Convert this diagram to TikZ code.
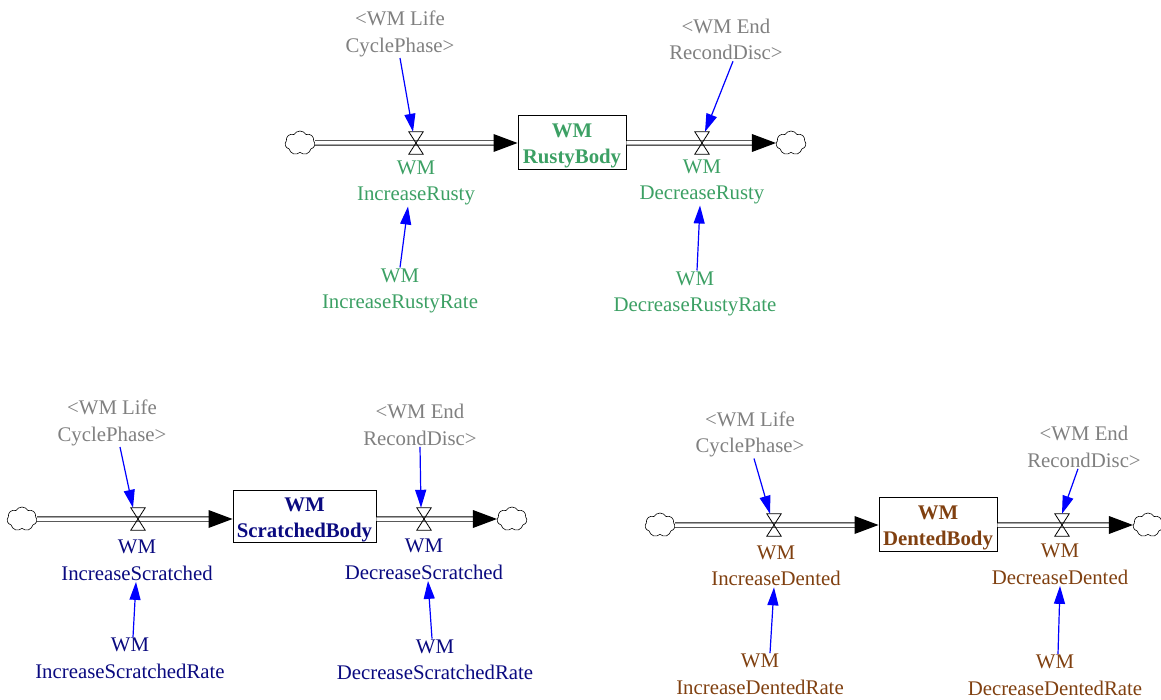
\documentclass[tikz,border=0pt]{standalone}
\usepackage{fontspec}
\setmainfont{Liberation Serif}
\usetikzlibrary{arrows.meta,shapes.symbols}
\definecolor{rgreen}{RGB}{60,160,100}
\definecolor{snavy}{RGB}{10,10,128}
\definecolor{dbrown}{RGB}{128,64,16}
\definecolor{shgray}{RGB}{128,128,128}
\begin{document}
\begin{tikzpicture}[x=1pt,y=-1pt,
 lbl/.style={align=center, inner sep=1pt, font=\fontsize{20.8}{26.5}\selectfont},
 shadow/.style={lbl, text=shgray},
 stock/.style={draw, line width=0.9pt, align=center, inner sep=0pt, font=\bfseries\fontsize{20.8}{26.5}\selectfont},
 cloudnode/.style={cloud, draw, cloud puffs=7, cloud puff arc=120, minimum width=30pt, minimum height=24pt, inner sep=0pt, line width=0.6pt},
 valve/.style={inner sep=0pt, minimum width=14pt, minimum height=22pt},
 pipe/.style={double, double distance=3.5pt, line width=0.9pt},
 infl/.style={blue, line width=1.2pt, -{Triangle[length=18pt,width=11pt]}}
]
\useasboundingbox (0,0) rectangle (1161,700);
\newcommand\drawvalve[1]{\draw[line width=0.8pt] (#1.north west) -- (#1.south east) -- (#1.south west) -- (#1.north east) -- cycle;}
\newcommand\flowhead[1]{\fill ([xshift=-24pt,yshift=9pt]#1.west) -- (#1.west) -- ([xshift=-24pt,yshift=-9pt]#1.west) -- cycle;}
\newcommand\stocktxt[1]{\rule{0pt}{21pt}WM\\#1}

% ---------- Group 1: Rusty ----------
\node[cloudnode] (c1) at (300,143) {};
\node[valve] (v1) at (416,143) {};
\node[stock, text=rgreen, minimum width=108pt, minimum height=54pt] (b1) at (572,142) {\stocktxt{RustyBody}};
\node[valve] (v2) at (702,143) {};
\node[cloudnode] (c2) at (791,143) {};
\draw[pipe] (c1.east) -- ([xshift=-20pt,yshift=-1pt]b1.west);
\fill ([xshift=-24pt,yshift=8pt]b1.west) -- ([yshift=-1pt]b1.west) -- ([xshift=-24pt,yshift=-10pt]b1.west) -- cycle;
\draw[pipe] ([yshift=-1pt]b1.east) -- ([xshift=-20pt]c2.west);
\flowhead{c2}
\drawvalve{v1}
\drawvalve{v2}
\node[lbl, text=rgreen] (f1) at (416,183) {WM\\IncreaseRusty};
\node[lbl, text=rgreen] (f2) at (702,182) {WM\\DecreaseRusty};
\node[shadow] (s1) at (400,34) {<WM Life\\CyclePhase>};
\node[shadow] (s2) at (726,39.5) {<WM End\\RecondDisc>};
\node[lbl, text=rgreen] (r1) at (400,291) {WM\\IncreaseRustyRate};
\node[lbl, text=rgreen] (r2) at (695,294) {WM\\DecreaseRustyRate};
\draw[infl] (s1.south) -- ([xshift=-3pt]v1.north);
\draw[infl] ([xshift=7pt]s2.south) -- ([xshift=3pt]v2.north);
\draw[infl] (r1.north) -- ([xshift=-8pt]f1.south);
\draw[infl] ([xshift=2pt]r2.north) -- ([xshift=-2pt]f2.south);

% ---------- Group 2: Scratched ----------
\node[cloudnode] (c3) at (22,519) {};
\node[valve] (v3) at (138,519) {};
\node[stock, text=snavy, minimum width=143pt, minimum height=52pt] (b2) at (304.5,516) {\stocktxt{ScratchedBody}};
\node[valve] (v4) at (424,519) {};
\node[cloudnode] (c4) at (512,519) {};
\draw[pipe] (c3.east) -- ([xshift=-20pt,yshift=-3pt]b2.west);
\fill ([xshift=-24pt,yshift=6pt]b2.west) -- ([yshift=-3pt]b2.west) -- ([xshift=-24pt,yshift=-12pt]b2.west) -- cycle;
\draw[pipe] ([yshift=-3pt]b2.east) -- ([xshift=-20pt]c4.west);
\flowhead{c4}
\drawvalve{v3}
\drawvalve{v4}
\node[lbl, text=snavy] (f3) at (137,560.5) {WM\\IncreaseScratched};
\node[lbl, text=snavy] (f4) at (424,559.5) {WM\\DecreaseScratched};
\node[shadow] (s3) at (112,423) {<WM Life\\CyclePhase>};
\node[shadow] (s4) at (420,425) {<WM End\\RecondDisc>};
\node[lbl, text=snavy] (r3) at (130,658.5) {WM\\IncreaseScratchedRate};
\node[lbl, text=snavy] (r4) at (435,660) {WM\\DecreaseScratchedRate};
\draw[infl] ([xshift=8pt]s3.south) -- ([xshift=-5pt]v3.north);
\draw[infl] (s4.south) -- ([xshift=-3pt]v4.north);
\draw[infl] ([xshift=3pt]r3.north) -- ([xshift=-1pt]f3.south);
\draw[infl] ([xshift=-3pt]r4.north) -- ([xshift=4pt]f4.south);

% ---------- Group 3: Dented ----------
\node[cloudnode] (c5) at (660,525) {};
\node[valve] (v5) at (774,525) {};
\node[stock, text=dbrown, minimum width=118pt, minimum height=54pt] (b3) at (938,524) {\stocktxt{DentedBody}};
\node[valve] (v6) at (1062,525) {};
\node[cloudnode] (c6) at (1148,525) {};
\draw[pipe] (c5.east) -- ([xshift=-20pt,yshift=-1pt]b3.west);
\fill ([xshift=-24pt,yshift=8pt]b3.west) -- ([yshift=-1pt]b3.west) -- ([xshift=-24pt,yshift=-10pt]b3.west) -- cycle;
\draw[pipe] ([yshift=-1pt]b3.east) -- ([xshift=-20pt]c6.west);
\flowhead{c6}
\drawvalve{v5}
\drawvalve{v6}
\node[lbl, text=dbrown] (f5) at (776,566) {WM\\IncreaseDented};
\node[lbl, text=dbrown] (f6) at (1060,564.5) {WM\\DecreaseDented};
\node[shadow] (s5) at (750,434.5) {<WM Life\\CyclePhase>};
\node[shadow] (s6) at (1084,447) {<WM End\\RecondDisc>};
\node[lbl, text=dbrown] (r5) at (760,674.5) {WM\\IncreaseDentedRate};
\node[lbl, text=dbrown] (r6) at (1055,675.5) {WM\\DecreaseDentedRate};
\draw[infl] ([xshift=4pt]s5.south) -- ([xshift=-4pt]v5.north);
\draw[infl] ([xshift=-6pt]s6.south) -- (v6.north);
\draw[infl] ([xshift=10pt]r5.north) -- ([xshift=-2pt]f5.south);
\draw[infl] ([xshift=3pt]r6.north) -- (f6.south);
\end{tikzpicture}
\end{document}
